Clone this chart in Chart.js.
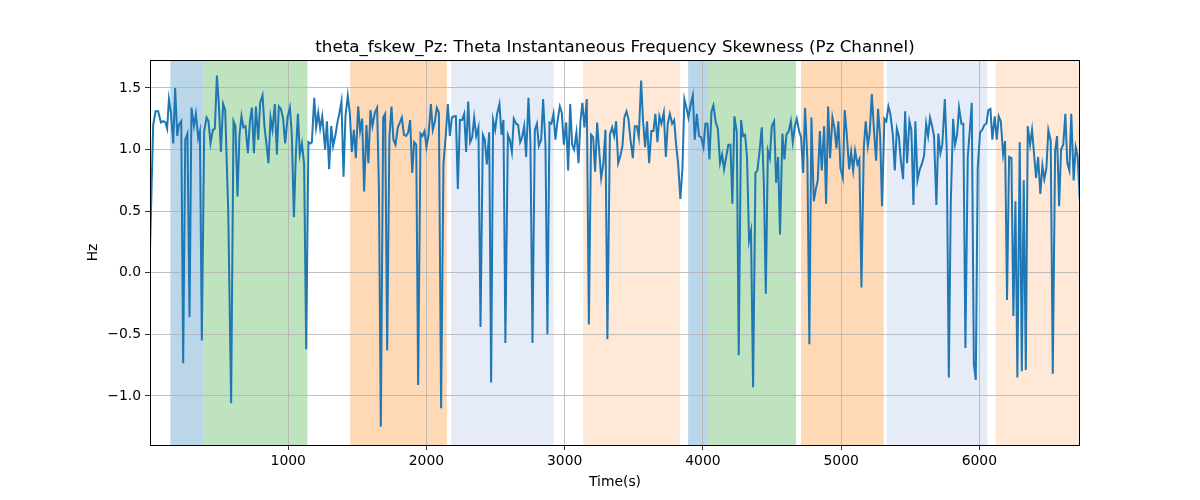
<!DOCTYPE html>
<html>
<head>
<meta charset="utf-8">
<script src="https://cdn.jsdelivr.net/npm/chart.js@4/dist/chart.umd.min.js"></script>
<style>
  html, body { margin: 0; padding: 0; background: #ffffff; }
  #wrap { width: 1200px; height: 500px; }
</style>
</head>
<body>
<div id="wrap"><canvas id="c" width="1200" height="500"></canvas></div>
<script>
const titleText = "theta_fskew_Pz: Theta Instantaneous Frequency Skewness (Pz Channel)";
const xLabel = "Time(s)";
const yLabel = "Hz";
const xTicks = [1000, 2000, 3000, 4000, 5000, 6000];
const yTicks = [-1.0, -0.5, 0.0, 0.5, 1.0, 1.5];
const xRange = [0, 6728];
const yRange = [-1.398, 1.727];

// shaded state intervals: [start, end, kind]
const spanStarts = [147, 385, 1448, 2179, 3133, 3893, 4037, 4710, 5330, 6116];
const spanEnds   = [385, 1139, 2147, 2921, 3835, 4037, 4674, 5308, 6058, 6728];
const spanKinds  = ["blue", "green", "orange", "lightblue", "lightorange", "blue", "green", "orange", "lightblue", "lightorange"];

const times = [
0,23,40,59,79,95,112,124,137,151,168,182,197,209,226,240,255,271,286,300,318,332,349,361,375,392,409,423,438,455,469,484,498,513,529,544,566,587,604,618,633,647,662,676,691,708,723,737,752,766,783,797,814,828,843,857,872,886,903,918,932,947,963,978,995,1012,1026,1041,1055,1070,1084,1099,1115,1130,
1146,1159,1171,1188,1202,1217,1231,1246,1255,1267,1280,1296,1311,1325,1342,1356,1371,1385,1400,1414,1431,1446,1460,1475,1489,1506,1520,1535,1549,1566,1580,1595,1609,1627,1643,1656,1670,1687,1701,1716,1732,1747,1761,1776,1793,1808,1822,1837,1853,1868,1882,1897,1911,1926,1940,1957,1971,1986,2000,2015,2032,2046,2061,2075,2090,2106,2123,2140,2155,2169,2184,2198,2213,2227,2242,
2258,2273,2287,2302,2316,2331,2345,2360,2376,2391,2408,2422,2437,2454,2468,2482,2497,2511,2528,2543,2557,2571,2589,2603,2618,2632,2649,2663,2678,2692,2707,2721,2738,2752,2767,2784,2799,2813,2830,2844,2861,2875,2890,2904,2919,2933,2948,2965,2979,2994,3011,3025,3040,3054,3068,3085,3100,3114,3128,3143,3160,3175,3191,3206,3220,3235,3249,3264,3280,3295,3309,
3327,3343,3358,3372,3387,3403,3418,3432,3447,3461,3476,3493,3507,3522,3536,3553,3567,3582,3596,3611,3627,3642,3656,3671,3685,3700,3717,3732,3746,3761,3777,3792,3806,3821,3837,3852,3866,3881,3895,3912,3927,3941,3956,3972,3987,4004,4018,4033,4047,4062,4076,4093,4108,4124,4139,4153,4170,4184,4199,4213,4228,4245,4259,4276,4290,4305,4319,4334,4348,4363,4380,4394,4409,4426,
4441,4455,4470,4484,4498,4515,4530,4544,4558,4575,4590,4604,4621,4636,4650,4665,4679,4696,4710,4725,4739,4756,4770,4785,4802,4817,4831,4846,4860,4877,4891,4906,4920,4937,4951,4966,4980,4995,5012,5026,5041,5058,5072,5087,5101,5118,5132,5147,5164,5178,5193,5207,5222,5238,5253,5267,5282,5296,5313,5327,5342,5356,5374,5388,5403,5417,5432,5448,5463,5477,5494,5508,5523,5537,
5552,5569,5586,5600,5615,5629,5643,5658,5672,5689,5703,5718,5732,5750,5764,5779,5793,5810,5824,5839,5853,5870,5884,5899,5916,5931,5945,5960,5974,5988,6005,6020,6036,6051,6065,6080,6094,6111,6126,6140,6155,6172,6186,6200,6215,6232,6246,6261,6275,6292,6307,6321,6336,6350,6367,6381,6396,6410,6425,6441,6456,6470,6485,6499,6516,6531,6548,6562,6577,6591,6607,6622,6636,6651,6665,6682,6697,6711,6726
];

const skew = [
0.18,1.20,1.31,1.31,1.22,1.23,1.22,1.17,1.41,1.30,1.05,1.50,1.11,1.20,1.23,-0.735,1.08,1.13,-0.36,1.34,1.19,1.29,1.09,1.15,-0.55,1.15,1.26,1.23,1.05,1.16,1.17,1.60,1.37,0.98,1.37,1.32,0.50,-1.06,1.23,1.19,0.62,1.11,1.27,1.18,1.19,0.97,1.23,1.34,0.97,1.35,1.08,1.38,1.44,1.19,1.04,0.89,1.26,1.16,1.37,0.96,1.35,1.33,1.25,1.05,1.26,1.34,1.12,0.45,0.96,1.29,0.96,1.05,0.88,-0.62,
1.06,1.05,1.06,1.42,1.18,1.30,1.17,1.27,1.16,1.00,1.23,0.84,1.19,1.03,1.12,1.22,1.30,1.39,0.78,1.27,1.44,1.29,0.98,1.16,0.93,1.35,1.15,1.25,0.66,1.20,0.89,1.32,1.19,1.30,1.34,0.69,-1.25,1.26,1.29,-0.63,1.10,1.35,1.08,1.04,1.18,1.22,1.26,1.12,1.11,1.14,1.24,0.81,1.06,1.04,-0.91,1.13,1.11,1.15,1.02,1.12,1.37,1.16,1.23,1.34,1.30,-1.10,0.88,1.12,1.37,1.11,1.26,1.27,1.27,0.68,1.24,
1.24,1.29,0.98,1.39,1.06,1.10,1.26,1.11,1.18,-0.44,1.12,1.08,0.88,1.14,-0.89,1.24,1.16,1.29,1.37,1.12,1.24,-0.57,1.12,1.08,0.98,1.25,1.21,1.20,1.06,1.10,1.19,0.94,1.42,1.07,-0.57,1.16,1.21,1.03,1.08,1.41,1.04,-0.50,1.22,1.21,1.29,1.08,1.23,1.35,1.30,1.04,1.22,0.83,1.37,1.04,1.00,1.14,0.89,1.23,1.38,1.18,1.41,-0.42,1.12,1.10,0.82,1.22,1.00,0.77,0.89,1.16,-0.54,
1.12,1.18,1.11,1.23,0.89,0.95,1.03,1.26,1.31,1.25,1.08,0.93,1.19,1.19,1.10,1.56,1.23,1.02,1.23,0.89,1.15,1.15,1.29,1.06,1.27,1.21,1.30,0.94,1.21,1.29,1.21,1.24,1.04,0.88,0.60,0.85,1.41,1.34,1.26,1.37,1.44,1.08,1.29,1.11,1.10,1.02,1.21,1.21,0.92,1.31,1.36,1.22,1.17,0.89,0.96,0.84,0.95,1.04,1.04,0.56,1.27,1.14,-0.67,1.24,1.11,1.12,0.94,0.26,0.34,-0.93,0.81,0.83,0.98,1.18,
0.72,-0.17,0.99,0.93,1.19,1.23,0.73,0.94,0.31,1.13,0.92,1.12,1.15,1.23,1.06,1.19,1.25,1.15,1.10,0.81,1.34,0.91,-0.58,1.26,0.58,0.68,0.75,1.15,0.83,1.19,0.56,1.35,0.93,1.26,1.18,1.01,1.23,0.85,0.77,1.32,1.12,0.84,0.98,0.83,0.99,0.88,0.92,-0.12,1.02,1.23,1.03,1.14,1.45,1.15,0.91,1.33,1.11,0.54,1.25,1.23,1.35,1.29,1.12,0.83,1.17,1.11,0.91,0.76,1.31,0.89,1.23,1.16,0.55,1.23,
0.75,0.84,0.89,0.95,1.21,1.11,1.26,1.19,1.11,0.55,1.13,0.97,1.04,1.41,0.99,-0.85,0.56,1.25,1.04,1.12,1.34,1.21,1.21,-0.61,0.94,1.16,1.38,-0.74,-0.87,0.85,1.14,1.16,1.20,1.21,1.32,1.33,1.08,1.27,1.08,1.27,1.23,0.96,1.07,-0.22,0.94,0.93,-0.35,0.58,-0.85,1.06,-0.80,0.75,-0.79,1.19,1.04,1.16,0.96,0.77,0.94,0.64,0.87,0.76,0.85,1.16,1.07,-0.82,0.99,1.11,0.54,1.00,1.04,1.29,0.89,0.83,1.29,0.75,1.02,0.95,0.60
];

const spanColors = {
  blue: "rgba(31,119,180,0.30)",
  green: "rgba(44,160,44,0.30)",
  orange: "rgba(255,127,14,0.30)",
  lightblue: "rgba(58,110,190,0.13)",
  lightorange: "rgba(255,127,14,0.17)"
};

const points = times.map((t, i) => ({ x: t, y: skew[i] }));
const FONT = "'DejaVu Sans', sans-serif";

const decor = {
  id: "decor",
  beforeDraw(chart) {
    const { ctx, chartArea: a, scales } = chart;
    const xs = scales.x;
    ctx.save();
    ctx.beginPath();
    ctx.rect(a.left, a.top, a.right - a.left, a.bottom - a.top);
    ctx.clip();
    for (let i = 0; i < spanStarts.length; i++) {
      const x0 = xs.getPixelForValue(spanStarts[i]);
      const x1 = xs.getPixelForValue(spanEnds[i]);
      ctx.fillStyle = spanColors[spanKinds[i]];
      ctx.fillRect(x0, a.top, x1 - x0, a.bottom - a.top);
    }
    ctx.restore();
  },
  afterDraw(chart) {
    const { ctx, chartArea: a } = chart;
    ctx.save();
    ctx.strokeStyle = "#000";
    ctx.lineWidth = 1;
    ctx.strokeRect(Math.round(a.left) + 0.5, Math.round(a.top) + 0.5,
                   Math.round(a.right - a.left) - 1, Math.round(a.bottom - a.top));
    ctx.fillStyle = "#000";
    ctx.textAlign = "center";
    ctx.textBaseline = "alphabetic";
    ctx.font = "16.7px " + FONT;
    ctx.fillText(titleText, (a.left + a.right) / 2, 52);
    ctx.font = "13.9px " + FONT;
    ctx.fillText(xLabel, (a.left + a.right) / 2, 486);
    ctx.translate(97, (a.top + a.bottom) / 2);
    ctx.rotate(-Math.PI / 2);
    ctx.fillText(yLabel, 0, 0);
    ctx.restore();
  }
};

new Chart(document.getElementById("c"), {
  type: "line",
  data: {
    datasets: [{
      data: points,
      borderColor: "#1f77b4",
      borderWidth: 2,
      pointRadius: 0,
      tension: 0,
      fill: false
    }]
  },
  options: {
    responsive: false,
    devicePixelRatio: 1,
    animation: false,
    parsing: true,
    layout: { padding: { left: 0, right: 120, top: 60, bottom: 0 } },
    plugins: { legend: { display: false }, title: { display: false }, tooltip: { enabled: false } },
    scales: {
      x: {
        type: "linear",
        min: xRange[0],
        max: xRange[1],
        afterBuildTicks: s => { s.ticks = xTicks.map(v => ({ value: v })); },
        afterFit: s => { s.height = 55; },
        grid: { color: "#b0b0b0", lineWidth: 0.8, tickColor: "#000", tickLength: 5, drawTicks: true },
        border: { display: false },
        ticks: { color: "#000", font: { family: FONT, size: 13.9 }, padding: 3, maxRotation: 0,
                 callback: v => String(v) }
      },
      y: {
        type: "linear",
        min: yRange[0],
        max: yRange[1],
        afterBuildTicks: s => { s.ticks = yTicks.map(v => ({ value: v })); },
        afterFit: s => { s.width = 150; },
        grid: { color: "#b0b0b0", lineWidth: 0.8, tickColor: "#000", tickLength: 5, drawTicks: true },
        border: { display: false },
        ticks: { color: "#000", font: { family: FONT, size: 13.9 }, padding: 4,
                 callback: v => (v < 0 ? "\u2212" + Math.abs(v).toFixed(1) : v.toFixed(1)) }
      }
    }
  },
  plugins: [decor]
});
</script>
</body>
</html>
